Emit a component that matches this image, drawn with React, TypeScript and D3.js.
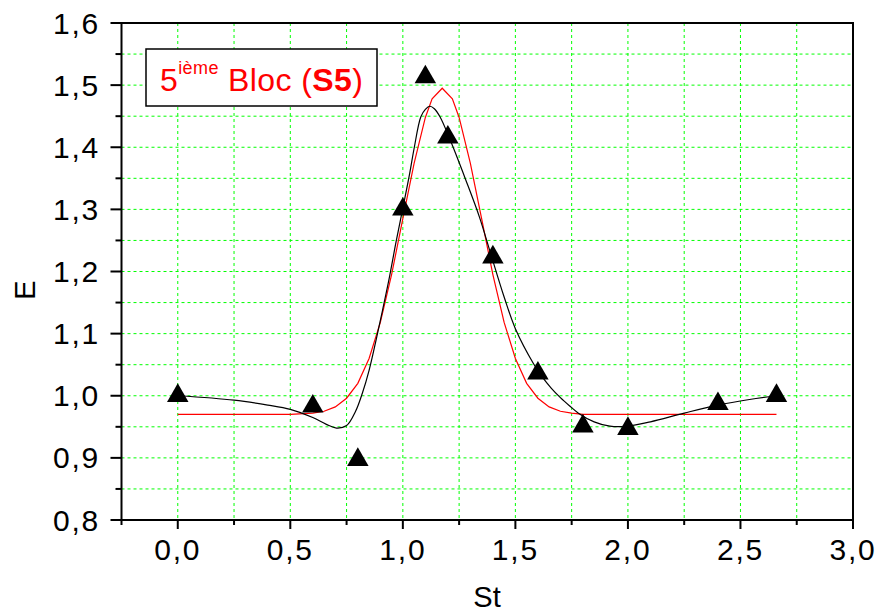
import React from "react";
import * as d3 from "d3";

// Measured points (St, E)
const stValues = [0.0, 0.6, 0.8, 1.0, 1.1, 1.2, 1.4, 1.6, 1.8, 2.0, 2.4, 2.66];
const eValues = [1.0, 0.983, 0.897, 1.3, 1.513, 1.416, 1.223, 1.036, 0.951, 0.947, 0.987, 1.0];

// Smoothed curve (black)
const smoothSt = [0.0, 0.25, 0.4, 0.5, 0.6, 0.66, 0.705, 0.75, 0.79, 0.82, 0.85, 0.88, 0.91, 0.94, 0.97, 1.0, 1.03, 1.05, 1.08, 1.1, 1.12, 1.14, 1.165, 1.21, 1.28, 1.34, 1.39, 1.45, 1.5, 1.58, 1.62, 1.66, 1.7, 1.74, 1.78, 1.85, 1.92, 2.0, 2.1, 2.25, 2.4, 2.54, 2.66];
const smoothE = [1.0, 0.993, 0.985, 0.978, 0.965, 0.954, 0.948, 0.952, 0.975, 1.004, 1.041, 1.088, 1.138, 1.19, 1.248, 1.302, 1.357, 1.398, 1.449, 1.461, 1.466, 1.462, 1.449, 1.412, 1.347, 1.288, 1.229, 1.159, 1.108, 1.052, 1.03, 1.012, 0.997, 0.984, 0.972, 0.958, 0.951, 0.951, 0.958, 0.972, 0.985, 0.994, 1.0];

// Peak fit (red)
const fitSt = [0.0, 0.5, 0.6, 0.65, 0.7, 0.75, 0.8, 0.85, 0.9, 0.95, 1.0, 1.05, 1.1, 1.13, 1.175, 1.22, 1.25, 1.3, 1.35, 1.4, 1.45, 1.5, 1.55, 1.6, 1.65, 1.7, 1.75, 1.8, 2.66];
const fitE = [0.97, 0.97, 0.972, 0.975, 0.982, 0.996, 1.02, 1.06, 1.118, 1.195, 1.285, 1.374, 1.448, 1.478, 1.495, 1.478, 1.448, 1.374, 1.285, 1.195, 1.118, 1.06, 1.02, 0.996, 0.982, 0.975, 0.972, 0.97, 0.97];

const xMajorTicks = [0, 0.5, 1.0, 1.5, 2.0, 2.5, 3.0];
const xMinorTicks = [-0.25, 0.25, 0.75, 1.25, 1.75, 2.25, 2.75];
const yMajorTicks = [0.8, 0.9, 1.0, 1.1, 1.2, 1.3, 1.4, 1.5, 1.6];
const yMinorTicks = [0.85, 0.95, 1.05, 1.15, 1.25, 1.35, 1.45, 1.55];

const W = 878;
const H = 612;
const left = 121.5;
const right = 853;
const top = 23;
const bottom = 520;

const x = d3.scaleLinear().domain([-0.25, 3.0]).range([left, right]);
const y = d3.scaleLinear().domain([0.8, 1.6]).range([bottom, top]);

const fmt = (v: number) => d3.format(".1f")(v).replace(".", ",");

const FONT = "'Liberation Sans', Arial, sans-serif";

export default function App() {
  const gridX = [...xMajorTicks, ...xMinorTicks].filter((v) => v > -0.25 && v < 3.0);
  const gridY = [...yMajorTicks, ...yMinorTicks].filter((v) => v > 0.8 && v < 1.6);

  const smoothPath = d3
    .line<[number, number]>()
    .x((d) => x(d[0]))
    .y((d) => y(d[1]))
    .curve(d3.curveCatmullRom.alpha(0.5))(smoothSt.map((s, i) => [s, smoothE[i]] as [number, number]));
  const fitPath = d3
    .line<[number, number]>()
    .x((d) => x(d[0]))
    .y((d) => y(d[1]))
    .curve(d3.curveLinear)(fitSt.map((s, i) => [s, fitE[i]] as [number, number]));

  const tri = d3.symbol().type(d3.symbolTriangle).size(200)();

  return (
    <svg
      width={W}
      height={H}
      style={{ position: "absolute", left: 0, top: 0, background: "#fff" }}
      fontFamily={FONT}
    >
      <rect x={0} y={0} width={W} height={H} fill="#fff" />
      {/* grid */}
      <g stroke="#00ff00" strokeWidth={1} strokeDasharray="3,3">
        {gridX.map((v) => (
          <line key={"gx" + v} x1={x(v)} x2={x(v)} y1={top} y2={bottom} />
        ))}
        {gridY.map((v) => (
          <line key={"gy" + v} x1={left} x2={right} y1={y(v)} y2={y(v)} />
        ))}
      </g>

      {/* curves */}
      <path d={fitPath || ""} fill="none" stroke="#ff0000" strokeWidth={1.2} />
      <path d={smoothPath || ""} fill="none" stroke="#000" strokeWidth={1.2} />

      {/* points */}
      {stValues.map((s, i) => (
        <path key={"p" + i} d={tri || ""} transform={`translate(${x(s)},${y(eValues[i])})`} fill="#000" />
      ))}

      {/* legend box */}
      <rect x={146} y={49} width={231} height={57} fill="#fff" stroke="#000" strokeWidth={1.5} />
      <text x={160} y={91} fill="#ff0000" fontSize={32} letterSpacing={0.4}>
        5
        <tspan fontSize={18} dy={-17}>ième</tspan>
        <tspan dy={17}> Bloc (</tspan>
        <tspan fontWeight="bold">S5</tspan>
        <tspan>)</tspan>
      </text>

      {/* frame */}
      <rect x={left} y={top} width={right - left} height={bottom - top} fill="none" stroke="#000" strokeWidth={2} />

      {/* ticks */}
      <g stroke="#000" strokeWidth={2}>
        {xMajorTicks.map((v) => (
          <line key={"xt" + v} x1={x(v)} x2={x(v)} y1={bottom} y2={bottom + 9} />
        ))}
        {xMinorTicks.map((v) => (
          <line key={"xm" + v} x1={x(v)} x2={x(v)} y1={bottom} y2={bottom + 5} />
        ))}
        {yMajorTicks.map((v) => (
          <line key={"yt" + v} x1={left - 11} x2={left} y1={y(v)} y2={y(v)} />
        ))}
        {yMinorTicks.map((v) => (
          <line key={"ym" + v} x1={left - 6} x2={left} y1={y(v)} y2={y(v)} />
        ))}
      </g>

      {/* tick labels */}
      <g fontSize={30} fill="#000" letterSpacing={1.8}>
        {xMajorTicks.map((v) => (
          <text key={"xl" + v} x={x(v)} y={560} textAnchor="middle">
            {fmt(v)}
          </text>
        ))}
        {yMajorTicks.map((v) => (
          <text key={"yl" + v} x={100} y={y(v) + 10.5} textAnchor="end">
            {fmt(v)}
          </text>
        ))}
      </g>

      {/* axis titles */}
      <text x={487} y={607} textAnchor="middle" fontSize={29}>
        St
      </text>
      <text transform="translate(35,290) rotate(-90)" textAnchor="middle" fontSize={29}>
        E
      </text>
    </svg>
  );
}
